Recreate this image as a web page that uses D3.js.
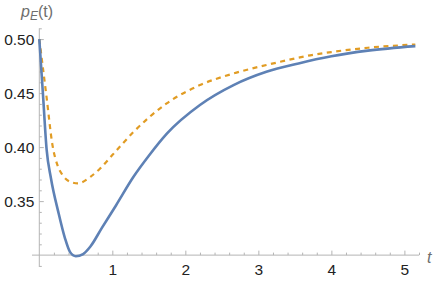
<!DOCTYPE html>
<meta charset="utf-8">
<title>p_E(t)</title>
<style>
  body { margin: 0; background: #fff; }
  svg { display: block; font-family: "Liberation Sans", Arial, sans-serif; }
</style>
<svg width="437" height="282"></svg>
<script src="https://d3js.org/d3.v7.min.js"></script>
<script>

// values
var tBlue = [0, 0.05, 0.1, 0.16, 0.26, 0.35, 0.42, 0.5, 0.6, 0.7, 0.855, 1.05, 1.29, 1.5, 1.75, 2.2, 2.66, 3.11, 3.55, 4.0, 4.5, 5.15];
var pBlue = [0.5, 0.449, 0.398, 0.371, 0.340, 0.316, 0.303, 0.299, 0.301, 0.308, 0.325, 0.346, 0.3725, 0.392, 0.4127, 0.439, 0.4574, 0.4697, 0.4775, 0.4841, 0.4893, 0.4935];

var tOrange = [0, 0.1, 0.18, 0.25, 0.32, 0.42, 0.53, 0.7, 0.83, 1.0, 1.29, 1.745, 2.2, 2.66, 3.11, 3.3, 3.71, 4.0, 4.5, 5.15];
var pOrange = [0.5, 0.446, 0.402, 0.383, 0.374, 0.368, 0.3664, 0.3725, 0.380, 0.3926, 0.414, 0.4405, 0.4574, 0.4682, 0.476, 0.479, 0.485, 0.488, 0.492, 0.495];

var xMajor = [1, 2, 3, 4, 5];
var yMajor = [0.35, 0.40, 0.45, 0.50];

var svg = d3.select("svg");

var x = d3.scaleLinear().domain([-0.1, 5.2]).range([32, 419]),
    y = d3.scaleLinear().domain([0.289, 0.51]).range([267, 28.3]);

var axisColor = "#b4b4b4";

// minor ticks
var xMinor = d3.range(0, 5.21, 0.2).filter(function(d) { return Math.abs(d - Math.round(d)) > 1e-6; });
var yMinor = d3.range(0.29, 0.5101, 0.01).filter(function(d) { return Math.abs(d * 20 - Math.round(d * 20)) > 1e-6; });

function styleAxis(g) {
  g.select(".domain").remove();
  g.selectAll(".tick line").attr("stroke", axisColor);
  g.selectAll(".tick text").attr("fill", "#222").attr("font-size", 15.5);
}

svg.append("g")
    .attr("transform", "translate(0," + y(0.3) + ")")
    .call(d3.axisBottom(x).tickValues(xMinor).tickSize(-2.5).tickFormat(""))
    .call(styleAxis);

svg.append("g")
    .attr("transform", "translate(0," + y(0.3) + ")")
    .call(d3.axisBottom(x).tickValues(xMajor).tickSizeInner(-4.5).tickSizeOuter(0).tickPadding(9).tickFormat(d3.format("d")))
    .call(styleAxis);

svg.append("g")
    .attr("transform", "translate(" + x(0) + ",0)")
    .call(d3.axisLeft(y).tickValues(yMinor).tickSize(-2.5).tickFormat(""))
    .call(styleAxis);

svg.append("g")
    .attr("transform", "translate(" + x(0) + ",0)")
    .call(d3.axisLeft(y).tickValues(yMajor).tickSizeInner(-4.5).tickSizeOuter(0).tickPadding(5).tickFormat(d3.format(".2f")))
    .call(styleAxis);

// axis lines
svg.append("line")
    .attr("x1", x.range()[0]).attr("x2", x.range()[1])
    .attr("y1", y(0.3)).attr("y2", y(0.3))
    .attr("stroke", axisColor);
svg.append("line")
    .attr("x1", x(0)).attr("x2", x(0))
    .attr("y1", y.range()[0]).attr("y2", y.range()[1])
    .attr("stroke", axisColor);

// axis labels
var ylab = svg.append("text")
    .attr("x", 21).attr("y", 17)
    .attr("fill", "#6e6e6e")
    .attr("font-size", 16);
ylab.append("tspan").attr("font-style", "italic").text("p");
ylab.append("tspan").attr("font-style", "italic").attr("font-size", 12).attr("dy", 3).text("E");
ylab.append("tspan").attr("dy", -3).text("(t)");

svg.append("text")
    .attr("x", 427).attr("y", 263)
    .attr("fill", "#6e6e6e")
    .attr("font-size", 16)
    .attr("font-style", "italic")
    .text("t");

var line = d3.line()
    .x(function(d) { return x(d[0]); })
    .y(function(d) { return y(d[1]); })
    .curve(d3.curveMonotoneX);

svg.append("path")
    .datum(d3.zip(tOrange, pOrange))
    .attr("fill", "none")
    .attr("stroke", "#E19C24")
    .attr("stroke-width", 2.2)
    .attr("stroke-dasharray", "5,4.5")
    .attr("d", line);

svg.append("path")
    .datum(d3.zip(tBlue, pBlue))
    .attr("fill", "none")
    .attr("stroke", "#5E81B5")
    .attr("stroke-width", 2.6)
    .attr("d", line);

</script>
